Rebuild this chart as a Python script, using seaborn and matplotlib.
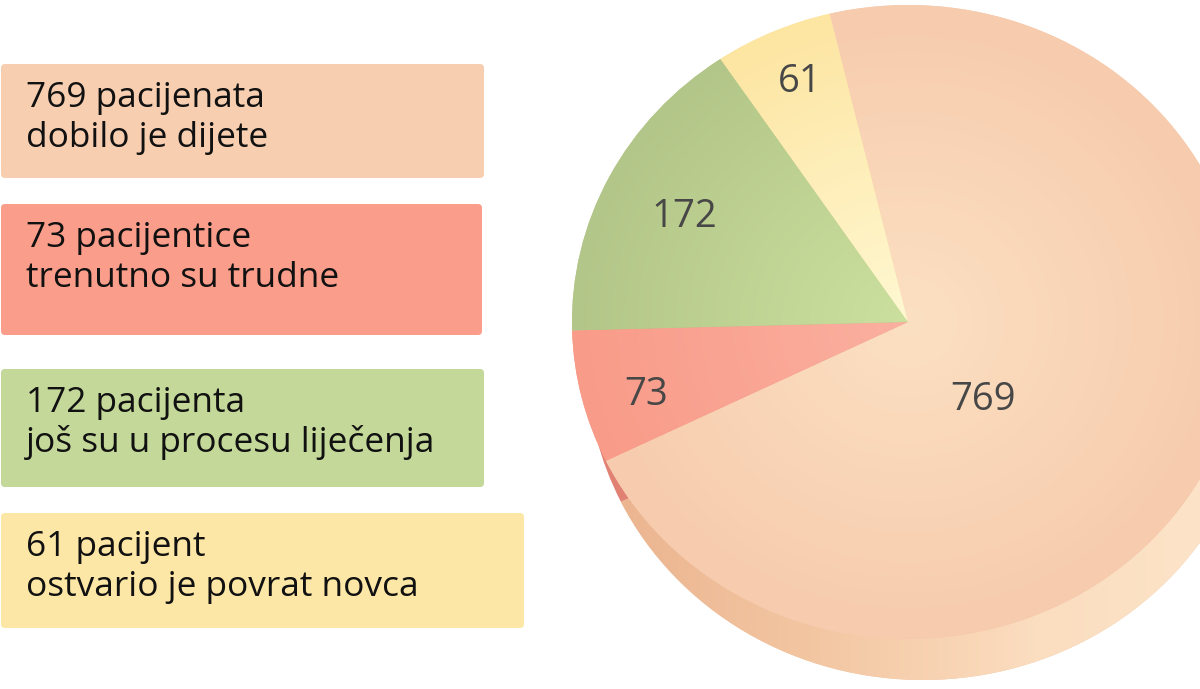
import numpy as np
import matplotlib.pyplot as plt
import seaborn as sns
from matplotlib.patches import FancyBboxPatch

# data (legend order, pie drawn clockwise from the top)
values = [769, 73, 172, 61]
line1 = ["769 pacijenata", "73 pacijentice", "172 pacijenta", "61 pacijent"]
line2 = ["dobilo je dijete", "trenutno su trudne", "još su u procesu liječenja", "ostvario je povrat novca"]

box_colors = ["#F7CEB0", "#FA9D8A", "#C3D899", "#FDE7A6"]
face_inner = ["#FCE0C2", "#FBB0A0", "#CBE09E", "#FFF8D2"]
face_outer = ["#F7CBAD", "#F99B89", "#B3C689", "#FDE5A2"]
side_colors = ["#F2C2A0", "#E08174", "#9FB476", "#E8CF8A"]

sns.set_theme(style="white")
plt.rcParams['font.family'] = ['Open Sans', 'DejaVu Sans']

W, H = 1200, 689
fig = plt.figure(figsize=(12, 6.89), dpi=100)
fig.patch.set_facecolor("white")

# ---- legend boxes (pixel coordinates) ----
lax = fig.add_axes([0, 0, 1, 1])
lax.set_xlim(0, W)
lax.set_ylim(H, 0)
lax.axis("off")

box_top = [64, 204, 369, 513]
box_bottom = [178, 335, 487, 628]
box_right = [484, 482, 484, 524]
r = 4
for i in range(len(values)):
    x0, y0 = 1, box_top[i]
    w, h = box_right[i] - x0, box_bottom[i] - y0
    lax.add_patch(FancyBboxPatch((x0 + r, y0 + r), w - 2 * r, h - 2 * r,
                                 boxstyle=f"round,pad={r}", fc=box_colors[i], ec="none"))
    lax.text(26, y0 + 43, line1[i], fontsize=25.4, color="#111111", va="baseline", ha="left")
    lax.text(26, y0 + 83, line2[i], fontsize=25.4, color="#111111", va="baseline", ha="left")

# ---- pie (elliptical top face + extruded side) ----
cx, cy, rx, ry = 908, 322, 336, 317
shift_x, depth = 15, 41          # side seen slightly from the left
d = depth / ry
sx = shift_x / rx
pax = fig.add_axes([(cx - rx) / W, (H - cy - ry - depth) / H, 2 * rx / W, (2 * ry + depth) / H])
start = 103.5

side, _ = pax.pie(values, colors=side_colors, startangle=start, counterclock=False,
                  center=(sx, -d), radius=1, wedgeprops=dict(linewidth=0, zorder=0.5))
total = sum(values)
top, _, autotexts = pax.pie(values, colors=face_outer, startangle=start, counterclock=False,
                            radius=1, autopct=lambda p: f"{p * total / 100:.0f}", pctdistance=0.8,
                            wedgeprops=dict(linewidth=0, zorder=1),
                            textprops=dict(fontsize=27.5, color="#474747"))

# side gradient for the big slice (dark left -> light right)
gx = np.linspace(0, 1, 256)[None, :].repeat(2, axis=0)
side_cmap = sns.blend_palette(["#EAB28D", "#F3C6A2", "#FBDDBF", "#FDE6CB"], as_cmap=True)
im = pax.imshow(gx, extent=(-1 + sx, 1 + sx, -1 - d, 1 - d), cmap=side_cmap, aspect="auto",
                zorder=0.6, interpolation="bilinear")
im.set_clip_path(side[0])

# radial gradient on each top wedge
n = 400
xx, yy = np.meshgrid(np.linspace(-1, 1, n), np.linspace(1, -1, n))
rr = np.clip(np.sqrt(xx ** 2 + yy ** 2), 0, 1)
for i, wedge in enumerate(top):
    cmap = sns.blend_palette([face_inner[i], face_outer[i]], as_cmap=True)
    im = pax.imshow(rr, extent=(-1, 1, -1, 1), cmap=cmap, vmin=0, vmax=1, aspect="auto",
                    zorder=1.2, interpolation="bilinear")
    im.set_clip_path(wedge)

# value labels placed as in the original layout (pie-unit coordinates)
label_pos = [(0.223, -0.233), (-0.780, -0.215), (-0.667, 0.344), (-0.321, 0.770)]
for t, pos in zip(autotexts, label_pos):
    t.set_position(pos)
    t.set_zorder(3)
    t.set_va("center_baseline")

pax.set_aspect("auto")
pax.set_xlim(-1, 1)
pax.set_ylim(-1 - d, 1)
pax.axis("off")

fig.savefig("out.png", dpi=100, facecolor="white")
